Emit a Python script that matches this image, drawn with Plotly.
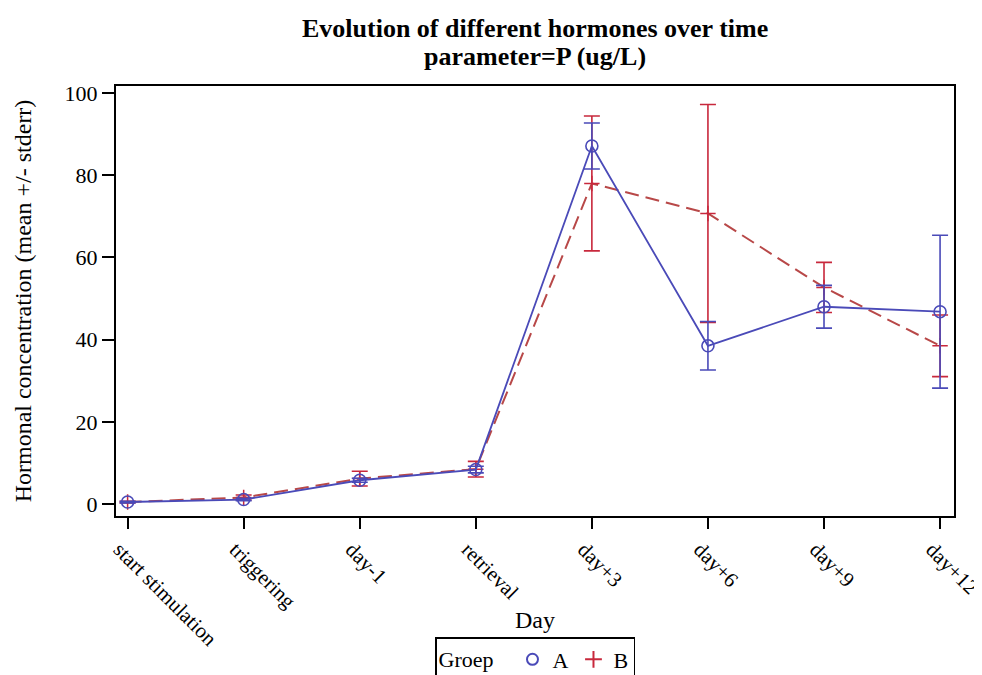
import plotly.graph_objects as go

days = ["start stimulation", "triggering", "day-1", "retrieval", "day+3", "day+6", "day+9", "day+12"]
mean_a = [0.5, 1.1, 5.8, 8.4, 87.1, 38.5, 48.0, 46.8]
err_a = [0.2, 0.3, 0.5, 0.8, 5.6, 5.9, 5.2, 18.6]
mean_b = [0.5, 1.6, 6.2, 8.5, 78.0, 70.7, 52.7, 38.5]
err_b = [0.2, 0.6, 1.8, 1.9, 16.4, 26.5, 6.1, 7.5]
y_ticks = [0, 20, 40, 60, 80, 100]

blue = "#4a4ab8"
red = "#c8283c"
redline = "#b84848"
FONT = "Liberation Serif"

fig = go.Figure()
fig.add_trace(go.Scatter(
    x=days, y=mean_b, mode="lines+markers", name="B", showlegend=False,
    line=dict(color=redline, width=2, dash="14px,7px"),
    marker=dict(symbol="cross-thin-open", size=11, color=red, line=dict(color=red, width=1.5)),
    error_y=dict(type="data", array=err_b, visible=True, color=red, thickness=1.6, width=8),
))
fig.add_trace(go.Scatter(
    x=days, y=mean_a, mode="lines+markers", name="A", showlegend=False,
    line=dict(color=blue, width=1.8),
    marker=dict(symbol="circle-open", size=12, color=blue, line=dict(color=blue, width=1.6)),
    error_y=dict(type="data", array=err_a, visible=True, color=blue, thickness=1.6, width=8),
))
# legend entries (markers only)
fig.add_trace(go.Scatter(x=[None], y=[None], mode="markers", name="A",
                         marker=dict(symbol="circle-open", size=11, color=blue, line=dict(color=blue, width=2))))
fig.add_trace(go.Scatter(x=[None], y=[None], mode="markers", name="B",
                         marker=dict(symbol="cross-thin-open", size=12, color=red, line=dict(color=red, width=2))))

# page body has an 8px offset; target plot frame: x 116..954, y 86..516 in window pixels
OFF = 8
W, H = 982 - OFF, 675 - OFF
L, R, T, B = 116 - OFF, 28, 86 - OFF, 159
ph = H - T - B


def py(win_y):
    """window pixel y -> paper y"""
    return (H - B - (win_y - OFF)) / ph


fig.update_layout(
    width=W, height=H,
    margin=dict(l=L, r=R, t=T, b=B, autoexpand=False),
    paper_bgcolor="white", plot_bgcolor="white",
    font=dict(family=FONT, size=22, color="black"),
    showlegend=True,
    legend=dict(
        orientation="h", x=0.5, xanchor="center", y=py(637), yanchor="top",
        title=dict(text="Groep  ", font=dict(size=22, family=FONT)),
        font=dict(size=22, family=FONT),
        bordercolor="black", borderwidth=1.5, bgcolor="white",
        itemwidth=30, tracegroupgap=0,
    ),
    annotations=[
        dict(text="<b>Evolution of different hormones over time</b>", x=0.5, xref="paper",
             y=py(29), yref="paper", yanchor="middle",
             showarrow=False, font=dict(size=26, family=FONT)),
        dict(text="<b>parameter=P (ug/L)</b>", x=0.5, xref="paper",
             y=py(56), yref="paper", yanchor="middle",
             showarrow=False, font=dict(size=26, family=FONT)),
        dict(text="Day", x=0.5, xref="paper", y=py(620), yref="paper", yanchor="middle",
             showarrow=False, font=dict(size=24, family=FONT)),
    ],
)

fig.update_xaxes(
    type="category", range=[-0.1, 7.12],
    showline=True, linecolor="black", linewidth=2, mirror=True,
    ticks="outside", ticklen=11, tickwidth=1.8, tickcolor="black",
    tickangle=45, showgrid=False, zeroline=False,
    ticklabelshift=-8,
    tickfont=dict(size=21, family=FONT),
)
fig.update_yaxes(
    range=[-2.9, 101.7], tickvals=y_ticks,
    showline=True, linecolor="black", linewidth=2, mirror=True,
    ticks="outside", ticklen=12, tickwidth=1.8, tickcolor="black",
    showgrid=False, zeroline=False,
    tickfont=dict(size=22, family=FONT),
    title=dict(text="Hormonal concentration (mean +/- stderr)", font=dict(size=24, family=FONT), standoff=26),
)

fig.write_html("out.html")
